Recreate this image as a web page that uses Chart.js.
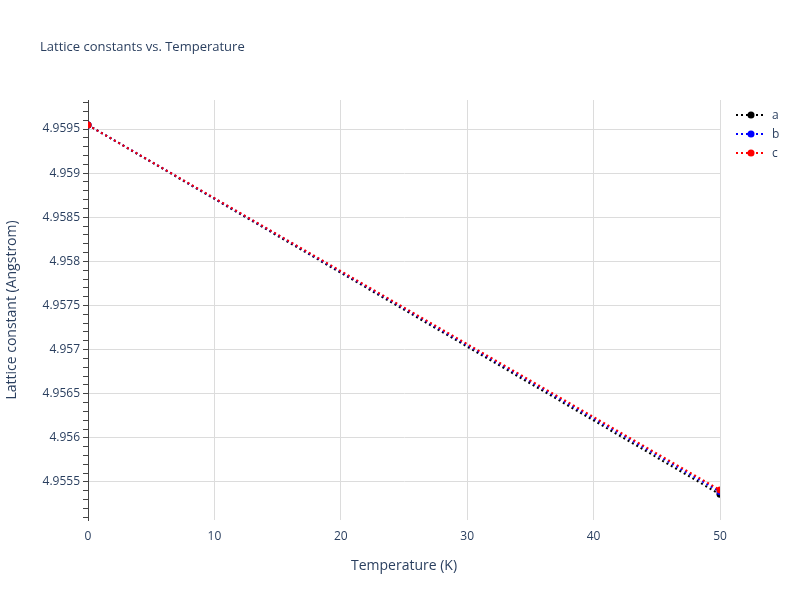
<!DOCTYPE html>
<html>
<head>
<meta charset="utf-8">
<script src="https://cdn.jsdelivr.net/npm/chart.js@4"></script>
<style>
  body { margin: 0; background: #fff; font-family: "Open Sans", sans-serif; }
  #wrap { position: relative; width: 800px; height: 600px; }
  #title { position: absolute; left: 40px; top: 37px; font-size: 13px; color: #2a3f5f; }
  #legend { position: absolute; left: 736px; top: 105px; font-size: 12px; color: #2a3f5f; }
  .item { height: 19px; display: flex; align-items: center; }
  .item canvas { margin-right: 6px; }
</style>
</head>
<body>
<div id="wrap">
  <canvas id="chart" width="800" height="600"></canvas>
  <div id="title">Lattice constants vs. Temperature</div>
  <div id="legend"></div>
</div>
<script>
// Data
const temperatures = [0, 50];
const seriesA = [4.959545, 4.95536];
const seriesB = [4.959545, 4.95539];
const seriesC = [4.959545, 4.95541];
const seriesNames = ['a', 'b', 'c'];
const seriesColors = ['#000000', '#0000ff', '#ff0000'];

const allSeries = [seriesA, seriesB, seriesC];

const datasets = allSeries.map(function(vals, i) {
  return {
    label: seriesNames[i],
    data: temperatures.map((t, j) => ({ x: t, y: vals[j] })),
    borderColor: seriesColors[i],
    backgroundColor: seriesColors[i],
    borderWidth: 2,
    borderDash: [2, 3],
    pointRadius: 3.5,
    pointBorderWidth: 0,
    order: allSeries.length - i   // later series drawn on top
  };
});

const font = { family: 'Open Sans', size: 12 };

new Chart(document.getElementById('chart'), {
  type: 'line',
  data: { datasets: datasets },
  options: {
    responsive: false,
    animation: false,
    layout: { padding: { top: 100, right: 80, left: 0, bottom: 22 } },
    plugins: { legend: { display: false }, tooltip: { enabled: false } },
    scales: {
      x: {
        type: 'linear', min: 0, max: 50,
        ticks: { stepSize: 10, color: '#2a3f5f', font: font, padding: 9 },
        grid: { color: '#dcdcdc', drawTicks: false },
        border: { display: false },
        title: { display: true, text: 'Temperature (K)', color: '#2a3f5f', font: { family: 'Open Sans', size: 14 }, padding: { top: 0, bottom: 4 } },
        afterFit: function(s) { s.height = 58; }
      },
      y: {
        min: 4.955069, max: 4.959829,
        afterBuildTicks: function(s) {
          const t = [];
          for (let k = 49550; k <= 49600; k++) {
            const v = k / 10000;
            if (v >= s.min && v <= s.max) t.push({ value: v });
          }
          s.ticks = t;
        },
        ticks: {
          color: '#2a3f5f', font: font, autoSkip: false,
          callback: function(v) {
            const k = Math.round(v * 10000);
            return k % 5 === 0 ? String(+(k / 10000).toFixed(4)) : '';
          }
        },
        grid: {
          color: function(c) {
            return Math.round(c.tick.value * 10000) % 5 === 0 ? '#dcdcdc' : 'rgba(0,0,0,0)';
          },
          tickColor: '#444', tickLength: 5
        },
        border: { display: true, color: '#444', width: 1 },
        title: { display: true, text: 'Lattice constant (Angstrom)', color: '#2a3f5f', font: { family: 'Open Sans', size: 14 }, padding: { bottom: 4 } },
        afterFit: function(s) { s.width = 88; }
      }
    }
  }
});

// Legend
const legend = document.getElementById('legend');
seriesNames.forEach(function(name, i) {
  const row = document.createElement('div');
  row.className = 'item';
  const c = document.createElement('canvas');
  c.width = 30; c.height = 10;
  const g = c.getContext('2d');
  g.strokeStyle = seriesColors[i]; g.lineWidth = 2; g.setLineDash([2, 3]);
  g.beginPath(); g.moveTo(0, 5); g.lineTo(30, 5); g.stroke();
  g.fillStyle = seriesColors[i];
  g.beginPath(); g.arc(15, 5, 3.5, 0, Math.PI * 2); g.fill();
  row.appendChild(c);
  row.appendChild(document.createTextNode(name));
  legend.appendChild(row);
});
</script>
</body>
</html>
